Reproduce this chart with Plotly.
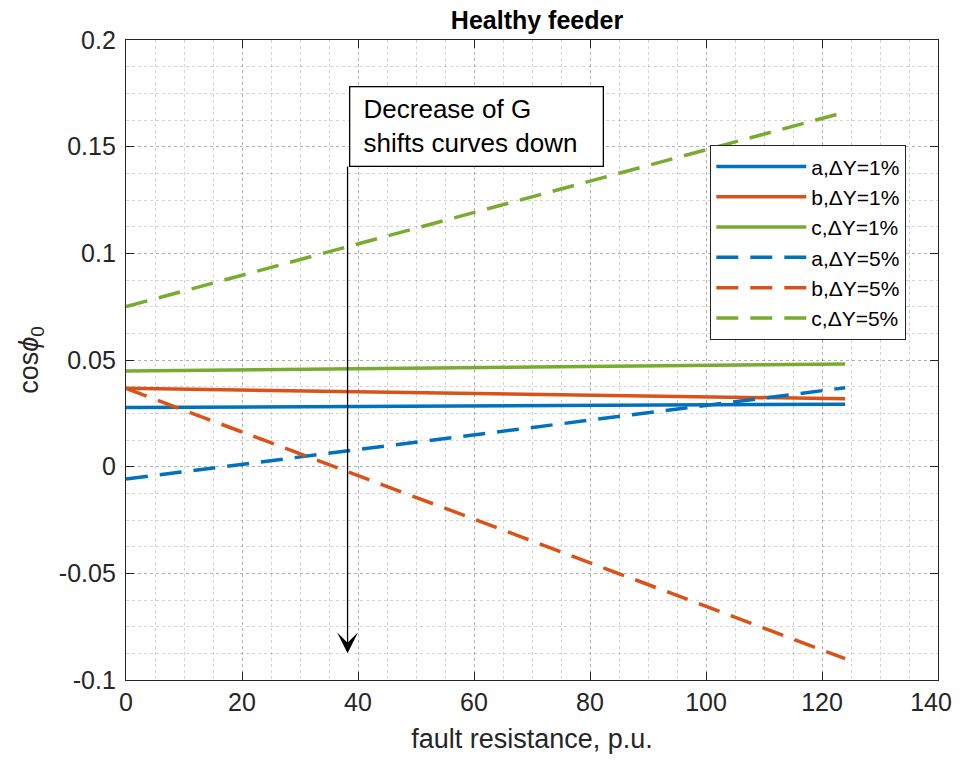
import plotly.graph_objects as go

# Data
fault_resistance = [0, 124]
a_dy1 = [0.0277, 0.0293]
b_dy1 = [0.0367, 0.0318]
c_dy1 = [0.0449, 0.0481]
a_dy5 = [-0.0058, 0.0370]
b_dy5 = [0.0367, -0.0900]
c_dy5 = [0.0750, 0.1662]

series_names = ["a,ΔY=1%", "b,ΔY=1%", "c,ΔY=1%", "a,ΔY=5%", "b,ΔY=5%", "c,ΔY=5%"]
series_values = [a_dy1, b_dy1, c_dy1, a_dy5, b_dy5, c_dy5]
colors = ["#0072BD", "#D95319", "#77AC30", "#0072BD", "#D95319", "#77AC30"]
dashes = ["solid", "solid", "solid", "22px,12px", "22px,12px", "22px,12px"]

x_ticks = [0, 20, 40, 60, 80, 100, 120, 140]
x_tick_text = ["0", "20", "40", "60", "80", "100", "120", "140&nbsp;&nbsp;"]
y_ticks = [0.2, 0.15, 0.1, 0.05, 0, -0.05, -0.1]
y_tick_text = ["0.2", "0.15", "0.1", "0.05", "0", "-0.05", "-0.1"]

font = "Liberation Sans, Arial, sans-serif"

fig = go.Figure()
for name, vals, col, dsh in zip(series_names, series_values, colors, dashes):
    fig.add_trace(go.Scatter(x=fault_resistance, y=vals, mode="lines", name=name,
                             line=dict(color=col, width=3.5, dash=dsh)))

grid_col = "rgba(0,0,0,0.17)"
axis_common = dict(
    showline=True, linecolor="#262626", linewidth=1.3, mirror="ticks",
    ticks="inside", ticklen=8, tickcolor="#262626",
    showgrid=True, gridcolor=grid_col, griddash="dot", gridwidth=1,
    zeroline=False, tickfont=dict(family=font, size=25, color="#262626"),
    ticklabeloverflow="allow", automargin=False,
)

# the page body keeps its 8px margin; figure coordinates are page coordinates minus 8
W, H = 947, 747
fig.update_layout(
    width=W, height=H,
    margin=dict(l=118, r=17, t=32, b=75),
    plot_bgcolor="white", paper_bgcolor="white",
    title=dict(text="<b>Healthy feeder</b>", x=529 / W, xanchor="center",
               y=1 - 12 / H, yanchor="middle", automargin=False,
               font=dict(family=font, size=25, color="black")),
    xaxis=dict(range=[0, 140], tickvals=x_ticks, ticktext=x_tick_text,
               minor=dict(dtick=5, showgrid=True, gridcolor=grid_col, griddash="dot", ticks=""),
               title=dict(text="fault resistance, p.u.", font=dict(family=font, size=27, color="#262626"),
                          standoff=13),
               **axis_common),
    yaxis=dict(range=[-0.1, 0.2], tickvals=y_ticks, ticktext=y_tick_text,
               ticklabelstandoff=4,
               minor=dict(dtick=0.0125, showgrid=True, gridcolor=grid_col, griddash="dot", ticks=""),
               title=dict(text="cos<i>ϕ</i><sub>0</sub>", font=dict(family=font, size=27, color="#262626"),
                          standoff=12),
               **axis_common),
    legend=dict(x=(710 - 126) / 812, y=(680 - 145) / 640, xanchor="left", yanchor="top",
                bgcolor="white", bordercolor="#262626", borderwidth=1.3,
                font=dict(family=font, size=21, color="black"),
                tracegroupgap=0, itemwidth=90),
    showlegend=True,
)

# Arrow
fig.add_annotation(x=38.2, y=-0.0875, ax=38.2, ay=0.1414, xref="x", yref="y", axref="x", ayref="y",
                   text="", showarrow=True, arrowhead=3, arrowsize=2.7, arrowwidth=1.3,
                   arrowcolor="black")
# Text box
fig.add_annotation(x=(349 - 126) / 812, y=(680 - 86) / 640, xref="paper", yref="paper",
                   xanchor="left", yanchor="top", align="left", showarrow=False,
                   text="&nbsp;Decrease of G<br>&nbsp;shifts curves down",
                   width=240, height=66,
                   font=dict(family=font, size=26, color="black"),
                   bgcolor="white", bordercolor="black", borderwidth=1.3, borderpad=6)

fig.write_html("out.html", config={"displayModeBar": False})
